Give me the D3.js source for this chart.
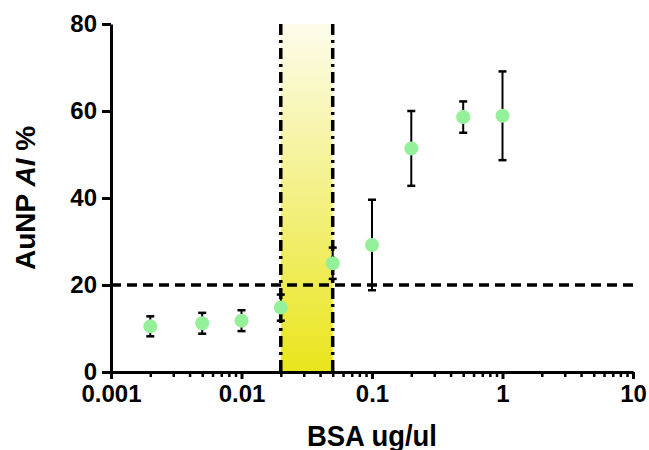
<!DOCTYPE html>
<html><head><meta charset="utf-8">
<script src="https://cdn.jsdelivr.net/npm/d3@7"></script>
<style>
html,body{margin:0;padding:0;background:#fff;}
svg{display:block;}
text{font-family:"Liberation Sans",Arial,sans-serif;font-weight:bold;fill:#000;}
</style></head>
<body>
<svg id="c" width="649" height="450"></svg>
<script>
// Data
const concentrations = [0.002, 0.005, 0.01, 0.02, 0.05, 0.1, 0.2, 0.5, 1];
const meanAI = [10.5, 11.2, 11.8, 14.8, 25.0, 29.2, 51.4, 58.6, 58.9];
const errAI = [2.3, 2.4, 2.4, 3.0, 3.6, 10.4, 8.6, 3.6, 10.2];
const xMajorTicks = [0.001, 0.01, 0.1, 1, 10];
const xTickLabels = ["0.001", "0.01", "0.1", "1", "10"];
const yTicks = [0, 20, 40, 60, 80];
const thresholdY = [20];
const bandRange = [0.02, 0.05];

const svg = d3.select("#c");
const m = {l:111, r:16, t:24, b:78};
const W = 649, H = 450;
const x = d3.scaleLog().domain([0.001, 10]).range([m.l, W - m.r]);
const y = d3.scaleLinear().domain([0, 80]).range([H - m.b, m.t]);

// gradient
const defs = svg.append("defs");
const g = defs.append("linearGradient").attr("id","yg").attr("x1",0).attr("y1",0).attr("x2",0).attr("y2",1);
g.append("stop").attr("offset","0%").attr("stop-color","#fdfcec");
g.append("stop").attr("offset","100%").attr("stop-color","#e9e51c");

svg.append("rect")
  .attr("x", x(bandRange[0])).attr("y", y(80))
  .attr("width", x(bandRange[1]) - x(bandRange[0]))
  .attr("height", y(0) - y(80))
  .attr("fill", "url(#yg)");

// vertical dash-dot lines
svg.selectAll("line.vl").data(bandRange).enter().append("line")
  .attr("class","vl")
  .attr("x1", d=>x(d)).attr("x2", d=>x(d))
  .attr("y1", y(80)).attr("y2", y(0))
  .attr("stroke","#000").attr("stroke-width",3.5)
  .attr("stroke-dasharray","11,5,3,5");

// horizontal dashed line
svg.selectAll("line.hl").data(thresholdY).enter().append("line")
  .attr("class","hl")
  .attr("x1", x(0.001)).attr("x2", x(10))
  .attr("y1", d=>y(d)).attr("y2", d=>y(d))
  .attr("stroke","#000").attr("stroke-width",3.5)
  .attr("stroke-dasharray","10,6");

// minor ticks
const minorTicks = [];
for (let e=-3; e<1; e++) for (let k=2; k<10; k++) minorTicks.push(k*Math.pow(10,e));
const xMinor = svg.append("g").attr("transform",`translate(0,${y(0)})`)
  .call(d3.axisBottom(x).tickValues(minorTicks).tickSize(5).tickFormat(""));
xMinor.select(".domain").remove();
xMinor.selectAll("line").attr("stroke-width",2.5);

// major x axis
const xa = svg.append("g").attr("transform",`translate(0,${y(0)})`)
  .call(d3.axisBottom(x).tickValues(xMajorTicks).tickSize(7).tickSizeOuter(0).tickPadding(6)
    .tickFormat((d,i)=>xTickLabels[i]));
xa.select(".domain").attr("stroke-width",3);
xa.selectAll(".tick line").attr("stroke-width",3);
xa.selectAll("text").style("font-size","24px").style("font-family","'Liberation Sans',Arial,sans-serif").style("font-weight","bold").attr("fill","#000");

// y axis
const ya = svg.append("g").attr("transform",`translate(${x(0.001)},0)`)
  .call(d3.axisLeft(y).tickValues(yTicks).tickSize(9).tickSizeOuter(0).tickPadding(5));
ya.select(".domain").attr("stroke-width",3);
ya.selectAll(".tick line").attr("stroke-width",3);
ya.selectAll("text").style("font-size","24px").style("font-family","'Liberation Sans',Arial,sans-serif").style("font-weight","bold").attr("fill","#000");

// error bars
const pts = concentrations.map((c,i)=>({c, v:meanAI[i], e:errAI[i]}));
const eb = svg.append("g");
eb.selectAll("line.v").data(pts).enter().append("line")
  .attr("x1",d=>x(d.c)).attr("x2",d=>x(d.c))
  .attr("y1",d=>y(d.v+d.e)).attr("y2",d=>y(d.v-d.e))
  .attr("stroke","#000").attr("stroke-width",2);
["top","bot"].forEach(side=>{
  eb.selectAll("line."+side).data(pts).enter().append("line")
    .attr("x1",d=>x(d.c)-4).attr("x2",d=>x(d.c)+4)
    .attr("y1",d=>y(side==="top"?d.v+d.e:d.v-d.e))
    .attr("y2",d=>y(side==="top"?d.v+d.e:d.v-d.e))
    .attr("stroke","#000").attr("stroke-width",2.5);
});

// points
svg.append("g").selectAll("circle").data(pts).enter().append("circle")
  .attr("cx",d=>x(d.c)).attr("cy",d=>y(d.v)).attr("r",7)
  .attr("fill","#95f09a");

// axis titles
svg.append("text").attr("x", 372).attr("y", 446)
  .attr("text-anchor","middle").style("font-size","30px")
  .attr("textLength",130).attr("lengthAdjust","spacingAndGlyphs").text("BSA ug/ul");
const yt = svg.append("text").attr("transform",`translate(35,${(y(0)+y(80))/2}) rotate(-90)`)
  .attr("text-anchor","middle").style("font-size","28px");
yt.append("tspan").text("AuNP ");
yt.append("tspan").style("font-style","italic").text("AI");
yt.append("tspan").text(" %");
</script>
</body></html>
